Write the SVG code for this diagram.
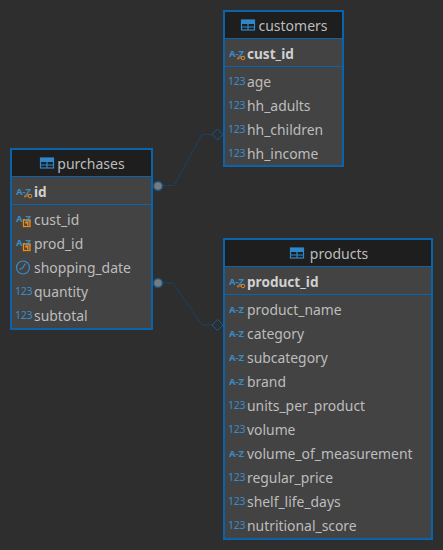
<svg xmlns="http://www.w3.org/2000/svg" width="443" height="550" viewBox="0 0 443 550">
<style>
text{font-family:"Noto Sans","Open Sans","Liberation Sans",sans-serif;font-size:13.9px;fill:#bdbdbd}
.t{font-size:14px;fill:#bcbcbc;text-anchor:middle}
.pk{font-weight:700;font-size:13.6px;fill:#d0d0d0}
.box{fill:#434343;stroke:#0a64ad;stroke-width:2}
.hd{fill:#1e1e1e}
.sep{stroke:#0a64ad;stroke-width:1;fill:none}
.ti{fill:none;stroke:#2f86c9;stroke-width:1.2}
.ic{font-size:9.5px;font-weight:700;fill:#3a8cc8}
.num{font-size:10.5px;font-weight:400;fill:#3a8cc8;letter-spacing:-.3px}
.con{fill:none;stroke:#0d4f85;stroke-width:1;stroke-dasharray:1.5 1}
.dot{fill:#7a7a7a;stroke:#17527f;stroke-width:1.5}
.dm{fill:#2e2e2e;stroke:#0d5a96;stroke-width:1}
.key{fill:none;stroke:#e8851c;stroke-width:1}
.fk{fill:none;stroke:#f08a10;stroke-width:1.3}
</style>
<defs>
<g id="tbl"><rect class="ti" x="-6.5" y="-5.5" width="13" height="10"/><path class="ti" d="M-6.500-2H6.500M-6.500 1.500H6.500M0-2V4.500"/><rect x="-6.500" y="-5.500" width="13" height="3" fill="#2f86c9"/></g>
<g id="pkk"><text class="ic" x="0" y="0">A-Z</text><circle class="key" cx="14" cy="1" r="1.800"/><path class="key" d="M8 1H12M9 1V2.500"/></g>
<g id="fkk"><text class="ic" x="0" y="0">A-Z</text><rect class="fk" x="7.500" y="-2" width="6.500" height="6.500"/><path d="M9 0H12.500V3.500H11V1.500H9Z" fill="#f08a10"/></g>
</defs>
<rect width="443" height="550" fill="#2e2e2e"/>
<g id="connectors">
<path class="con" d="M158 185.500H174L202 134.500H213"/>
<path class="con" d="M158 283H173L202 325H213"/>
<path class="dm" d="M212 134.500L217.500 129L223 134.500L217.500 140Z"/>
<path class="dm" d="M212 325L217.500 319.500L223 325L217.500 330.500Z"/>
<circle class="dot" cx="158" cy="186" r="4.500"/>
<circle class="dot" cx="158" cy="283" r="4.500"/>
</g>
<g id="purchases">
<rect class="box" x="11" y="149" width="141" height="180"/>
<rect class="hd" x="12" y="150" width="139" height="26"/>
<path class="sep" d="M12 176.500H151M12 204.500H151"/>
<use href="#tbl" x="47" y="163.500"/>
<text class="t" x="91" y="169">purchases</text>
<use href="#pkk" x="16" y="195"/><text class="pk" x="34" y="197">id</text>
<use href="#fkk" x="16" y="222"/><text x="34" y="225">cust_id</text>
<use href="#fkk" x="16" y="246"/><text x="34" y="249">prod_id</text>
<circle cx="23" cy="267.500" r="6.500" fill="none" stroke="#3a8cc8" stroke-width="1.200"/><path d="M25.500 263.500L22.500 268L19.500 269.500" fill="none" stroke="#3a8cc8" stroke-width="1.200"/>
<text x="34" y="273">shopping_date</text>
<text class="num" x="15" y="295">123</text><text x="34" y="297">quantity</text>
<text class="num" x="15" y="319">123</text><text x="34" y="321">subtotal</text>
</g>
<g id="customers">
<rect class="box" x="224" y="11" width="119" height="155"/>
<rect class="hd" x="225" y="12" width="117" height="26"/>
<path class="sep" d="M225 38.500H342M225 66.500H342"/>
<use href="#tbl" x="248" y="25.500"/>
<text class="t" x="293" y="31">customers</text>
<use href="#pkk" x="229" y="57"/><text class="pk" x="247" y="59">cust_id</text>
<text class="num" x="228" y="85">123</text><text x="247" y="87">age</text>
<text class="num" x="228" y="109">123</text><text x="247" y="111">hh_adults</text>
<text class="num" x="228" y="133">123</text><text x="247" y="135">hh_children</text>
<text class="num" x="228" y="157">123</text><text x="247" y="159">hh_income</text>
</g>
<g id="products">
<rect class="box" x="224" y="239" width="208" height="300"/>
<rect class="hd" x="225" y="240" width="206" height="26"/>
<path class="sep" d="M225 266.500H431M225 294.500H431"/>
<use href="#tbl" x="297" y="253.500"/>
<text class="t" x="339" y="259">products</text>
<use href="#pkk" x="229" y="285"/><text class="pk" x="247" y="287">product_id</text>
<text class="ic" x="229" y="313">A-Z</text><text x="247" y="315">product_name</text>
<text class="ic" x="229" y="337">A-Z</text><text x="247" y="339">category</text>
<text class="ic" x="229" y="361">A-Z</text><text x="247" y="363">subcategory</text>
<text class="ic" x="229" y="385">A-Z</text><text x="247" y="387">brand</text>
<text class="num" x="228" y="409">123</text><text x="247" y="411">units_per_product</text>
<text class="num" x="228" y="433">123</text><text x="247" y="435">volume</text>
<text class="ic" x="229" y="457">A-Z</text><text x="247" y="459">volume_of_measurement</text>
<text class="num" x="228" y="481">123</text><text x="247" y="483">regular_price</text>
<text class="num" x="228" y="505">123</text><text x="247" y="507">shelf_life_days</text>
<text class="num" x="228" y="529">123</text><text x="247" y="531">nutritional_score</text>
</g>
</svg>
